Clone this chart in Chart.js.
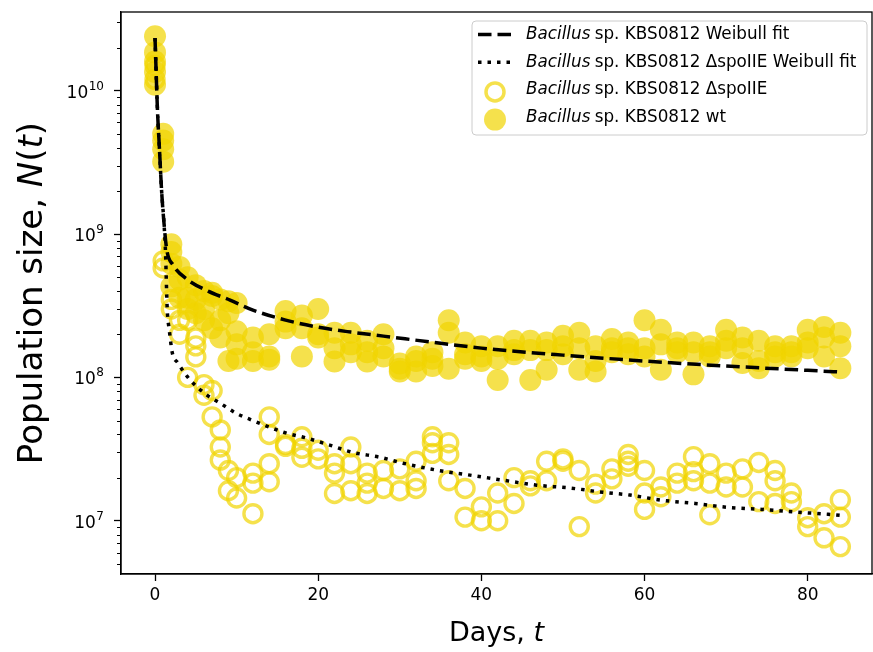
<!DOCTYPE html>
<html>
<head>
<meta charset="utf-8">
<script src="https://cdn.jsdelivr.net/npm/chart.js@4.4.1/dist/chart.umd.min.js"></script>
<style>
  html, body { margin: 0; padding: 0; background: #fff; overflow: hidden; }
  #wrap { position: relative; width: 873px; height: 652px; }
  canvas { display: block; }
</style>
</head>
<body>
<div id="wrap"><canvas id="survChart"></canvas></div>
<script>
// sampling days (shared by both strains)
const sampleDays = [0, 1, 2, 3, 4, 5, 6, 7, 8, 9, 10, 12, 14, 16, 18, 20, 22, 24, 26, 28, 30, 32, 34, 36, 38, 40,
  42, 44, 46, 48, 50, 52, 54, 56, 58, 60, 62, 64, 66, 68, 70, 72, 74, 76, 78, 80, 82, 84];

// wild type replicates, one list per sampling day
const wtReps = [
  [2.4e10, 1.85e10, 1.6e10, 1.35e10, 1.1e10], [5.0e9, 4.5e9, 3.9e9, 3.2e9], [8.5e8, 7.5e8, 6.2e8, 4.3e8],
  [5.9e8, 4.8e8, 3.6e8], [5.0e8, 3.6e8, 3.0e8], [4.4e8, 3.5e8, 2.8e8], [4.0e8, 3.0e8, 2.5e8],
  [3.9e8, 3.7e8, 2.2e8], [3.5e8, 2.5e8, 1.9e8], [3.4e8, 2.8e8, 1.3e8], [3.3e8, 2.1e8, 1.7e8, 1.35e8],
  [1.9e8, 1.5e8, 1.3e8], [2.0e8, 1.4e8, 1.33e8], [2.9e8, 2.45e8, 2.2e8], [2.7e8, 2.2e8, 1.4e8],
  [3.0e8, 2.0e8, 1.9e8], [2.05e8, 1.6e8, 1.29e8], [2.05e8, 1.7e8, 1.5e8], [1.8e8, 1.5e8, 1.29e8],
  [2.0e8, 1.6e8, 1.4e8], [1.25e8, 1.15e8, 1.1e8], [1.4e8, 1.3e8, 1.1e8], [1.5e8, 1.35e8, 1.2e8],
  [2.5e8, 2.05e8, 1.15e8], [1.75e8, 1.45e8, 1.35e8], [1.65e8, 1.4e8, 1.3e8], [1.65e8, 1.35e8, 9.6e7],
  [1.8e8, 1.55e8, 1.45e8], [1.8e8, 1.55e8, 9.6e7], [1.75e8, 1.55e8, 1.13e8], [1.95e8, 1.65e8, 1.45e8],
  [2.05e8, 1.6e8, 1.13e8], [1.65e8, 1.3e8, 1.1e8], [1.85e8, 1.6e8, 1.5e8], [1.75e8, 1.6e8, 1.45e8],
  [2.5e8, 1.6e8, 1.4e8], [2.15e8, 1.7e8, 1.13e8], [1.75e8, 1.6e8, 1.5e8], [1.75e8, 1.5e8, 1.05e8],
  [1.65e8, 1.5e8, 1.4e8], [2.15e8, 1.8e8, 1.6e8], [1.9e8, 1.6e8, 1.26e8], [1.8e8, 1.3e8, 1.16e8],
  [1.65e8, 1.5e8, 1.4e8], [1.65e8, 1.5e8, 1.4e8], [2.15e8, 1.75e8, 1.6e8], [2.25e8, 1.9e8, 1.4e8],
  [2.05e8, 1.65e8, 1.16e8]
];

// delta spoIIE replicates
const mutReps = [
  [1.5e10, 1.2e10], [6.5e8, 5.8e8], [3.5e8, 3.0e8], [2.5e8, 2.0e8], [2.5e8, 1.0e8], [1.88e8, 1.66e8, 1.39e8],
  [8.9e7, 7.5e7], [8.1e7, 5.3e7], [4.3e7, 3.27e7, 2.65e7], [2.24e7, 1.62e7], [2.0e7, 1.44e7],
  [2.15e7, 1.83e7, 1.12e7], [5.3e7, 4.0e7, 2.5e7, 1.87e7], [3.4e7, 3.3e7], [3.85e7, 3.2e7, 2.77e7],
  [3.1e7, 2.7e7], [2.5e7, 2.15e7, 1.55e7], [3.27e7, 2.5e7, 1.62e7], [2.15e7, 1.83e7, 1.55e7],
  [2.24e7, 1.68e7], [2.3e7, 1.62e7], [2.6e7, 1.9e7, 1.68e7], [3.85e7, 3.5e7, 2.95e7], [3.5e7, 2.9e7, 1.9e7],
  [1.68e7, 1.06e7], [1.25e7, 1.0e7], [1.56e7, 1.0e7], [2.0e7, 1.32e7], [1.9e7, 1.75e7], [2.6e7, 1.9e7],
  [2.7e7, 2.6e7], [2.24e7, 9.1e6], [1.8e7, 1.56e7], [2.3e7, 1.96e7], [2.9e7, 2.6e7, 2.4e7],
  [2.24e7, 1.56e7, 1.2e7], [1.72e7, 1.47e7], [2.15e7, 1.83e7], [2.8e7, 2.2e7, 1.9e7], [2.5e7, 1.83e7, 1.1e7],
  [2.15e7, 1.72e7], [2.3e7, 1.72e7], [2.55e7, 1.36e7], [2.24e7, 1.9e7, 1.32e7], [1.56e7, 1.36e7],
  [1.05e7, 9.1e6], [1.12e7, 7.6e6], [1.4e7, 1.06e7, 6.6e6]
];

// Weibull fit curves
const fitWtDays = [0, 0.3, 0.55, 0.8, 1.1, 1.45, 2.2, 4, 6.5, 9.2, 12, 16, 20, 24, 28, 35, 40, 50, 60, 70, 80, 84];
const fitWtN = [2.33e10, 7.3e9, 3.86e9, 2.03e9, 1.19e9, 7.7e8, 6.1e8, 4.8e8, 4.0e8, 3.46e8, 2.95e8, 2.51e8,
  2.24e8, 2.07e8, 1.94e8, 1.73e8, 1.6e8, 1.43e8, 1.3e8, 1.2e8, 1.12e8, 1.09e8];
const fitMutDays = [0, 0.3, 0.55, 0.8, 1.1, 1.3, 1.4, 1.5, 1.75, 2.1, 2.8, 4.3, 6.4, 8, 10, 12, 14, 16, 18.6,
  21.4, 24.2, 27.6, 30.4, 34.6, 38.6, 42.6, 46.8, 50.9, 54.9, 58.2, 62.1, 66.2, 70.2, 74.4, 78.4, 82.5, 84];
const fitMutN = [2.33e10, 7.3e9, 3.86e9, 2.03e9, 1.19e9, 7.1e8, 4.4e8, 2.95e8, 2.14e8, 1.5e8, 1.26e8, 9.6e7,
  7.5e7, 6.6e7, 5.6e7, 5.0e7, 4.5e7, 4.1e7, 3.77e7, 3.37e7, 3.0e7, 2.77e7, 2.52e7, 2.25e7, 2.08e7, 1.92e7,
  1.77e7, 1.69e7, 1.58e7, 1.51e7, 1.39e7, 1.32e7, 1.24e7, 1.2e7, 1.15e7, 1.11e7, 1.09e7];

const xTickValues = [0, 20, 40, 60, 80];
const yTickValues = [1e7, 1e8, 1e9, 1e10];
const yTickExponents = ['7', '8', '9', '10'];
const legendNames = [
  ' sp. KBS0812 Weibull fit',
  ' sp. KBS0812 \u0394spoIIE Weibull fit',
  ' sp. KBS0812 \u0394spoIIE',
  ' sp. KBS0812 wt'
];

const FONT = "'DejaVu Sans', sans-serif";
const gold = 'rgba(241, 212, 0, 0.7)';

const toPoints = (days, reps) => days.flatMap((d, i) => reps[i].map(v => ({ x: d, y: v })));
const toLine = (days, vals) => days.map((d, i) => ({ x: d, y: vals[i] }));

function drawRich(ctx, parts, x, y, size) {
  let total = 0;
  parts.forEach(p => {
    ctx.font = (p.it ? 'italic ' : '') + size + 'px ' + FONT;
    total += ctx.measureText(p.t).width;
  });
  let cx = x - total / 2;
  parts.forEach(p => {
    ctx.font = (p.it ? 'italic ' : '') + size + 'px ' + FONT;
    ctx.fillText(p.t, cx, y);
    cx += ctx.measureText(p.t).width;
  });
}

function noPad(s) {
  s.paddingLeft = 0; s.paddingRight = 0; s.paddingTop = 0; s.paddingBottom = 0;
}

const decorPlugin = {
  id: 'decor',
  afterDraw(chart) {
    const ctx = chart.ctx;
    const a = chart.chartArea;
    const ys = chart.scales.y;
    ctx.save();
    // frame
    ctx.strokeStyle = '#000';
    ctx.lineWidth = 1.3;
    ctx.strokeRect(a.left, a.top, a.right - a.left, a.bottom - a.top);
    // minor log ticks
    ctx.lineWidth = 1;
    for (let e = 6; e <= 10; e++) {
      for (let m = 2; m <= 9; m++) {
        const v = m * Math.pow(10, e);
        if (v < ys.min || v > ys.max) continue;
        const py = Math.round(ys.getPixelForValue(v)) + 0.5;
        ctx.beginPath();
        ctx.moveTo(a.left - 4, py);
        ctx.lineTo(a.left, py);
        ctx.stroke();
      }
    }
    ctx.fillStyle = '#000';
    ctx.textBaseline = 'alphabetic';
    ctx.textAlign = 'left';
    // y tick labels as 10 with a raised exponent
    yTickValues.forEach((v, i) => {
      const py = ys.getPixelForValue(v);
      const right = a.left - 17;
      ctx.font = '12px ' + FONT;
      const ew = ctx.measureText(yTickExponents[i]).width;
      ctx.fillText(yTickExponents[i], right - ew, py - 1);
      ctx.font = '17px ' + FONT;
      const bw = ctx.measureText('10').width;
      ctx.fillText('10', right - ew - bw - 0.5, py + 7);
    });
    // axis titles
    drawRich(ctx, [{ t: 'Days, ' }, { t: 't', it: true }], (a.left + a.right) / 2, 641, 27);
    ctx.save();
    ctx.translate(42, (a.top + a.bottom) / 2);
    ctx.rotate(-Math.PI / 2);
    drawRich(ctx, [{ t: 'Population size, ' }, { t: 'N', it: true }, { t: '(' }, { t: 't', it: true }, { t: ')' }], 0, 0, 34);
    ctx.restore();

    // legend
    const bx = a.right - 400, by = a.top + 9, bw = 395, bh = 114;
    ctx.fillStyle = 'rgba(255,255,255,0.8)';
    ctx.strokeStyle = '#cccccc';
    ctx.lineWidth = 1;
    ctx.beginPath();
    ctx.roundRect(bx, by, bw, bh, 4);
    ctx.fill();
    ctx.stroke();
    legendNames.forEach((name, i) => {
      const ry = by + 13.5 + i * 27.7;
      const sx = bx + 6, ex = bx + 41, cx = bx + 23;
      ctx.strokeStyle = '#000';
      ctx.lineWidth = 3.5;
      if (i === 0) {
        ctx.setLineDash([13.5, 6]);
        ctx.beginPath(); ctx.moveTo(sx, ry); ctx.lineTo(ex, ry); ctx.stroke();
      } else if (i === 1) {
        ctx.setLineDash([3.5, 6]);
        ctx.beginPath(); ctx.moveTo(sx, ry); ctx.lineTo(ex, ry); ctx.stroke();
      } else if (i === 2) {
        ctx.setLineDash([]);
        ctx.strokeStyle = gold;
        ctx.lineWidth = 3.5;
        ctx.beginPath(); ctx.arc(cx, ry + 2, 9, 0, Math.PI * 2); ctx.stroke();
      } else {
        ctx.setLineDash([]);
        ctx.fillStyle = gold;
        ctx.beginPath(); ctx.arc(cx, ry + 2, 11, 0, Math.PI * 2); ctx.fill();
      }
      ctx.setLineDash([]);
      ctx.fillStyle = '#000';
      ctx.textBaseline = 'middle';
      let tx = bx + 54;
      ctx.font = 'italic 16.8px ' + FONT;
      ctx.fillText('Bacillus', tx, ry);
      tx += ctx.measureText('Bacillus').width - 1;
      ctx.font = '16.8px ' + FONT;
      ctx.fillText(name, tx, ry);
    });
    ctx.restore();
  }
};

const ctx = document.getElementById('survChart').getContext('2d');
const survChart = new Chart(ctx, {
  type: 'scatter',
  data: {
    datasets: [
      {
        label: 'Weibull fit wt',
        type: 'line',
        data: toLine(fitWtDays, fitWtN),
        borderColor: '#000',
        borderWidth: 3.5,
        borderDash: [13.5, 6],
        pointRadius: 0,
        fill: false,
        cubicInterpolationMode: 'monotone',
        order: 0
      },
      {
        label: 'Weibull fit spoIIE',
        type: 'line',
        data: toLine(fitMutDays, fitMutN),
        borderColor: '#000',
        borderWidth: 3.5,
        borderDash: [3.5, 6],
        pointRadius: 0,
        fill: false,
        cubicInterpolationMode: 'monotone',
        order: 0
      },
      {
        label: 'spoIIE',
        data: toPoints(sampleDays, mutReps),
        pointRadius: 9,
        pointBorderWidth: 3.4,
        pointBorderColor: gold,
        pointBackgroundColor: 'rgba(0,0,0,0)',
        order: 2
      },
      {
        label: 'wt',
        data: toPoints(sampleDays, wtReps),
        pointRadius: 11,
        pointBorderWidth: 0,
        pointBackgroundColor: gold,
        pointBorderColor: 'rgba(0,0,0,0)',
        order: 1
      }
    ]
  },
  options: {
    responsive: true,
    maintainAspectRatio: false,
    animation: false,
    layout: { autoPadding: false, padding: { top: 12, right: 1, left: 0, bottom: 0 } },
    plugins: { legend: { display: false }, tooltip: { enabled: false } },
    scales: {
      x: {
        type: 'linear',
        min: -4.17,
        max: 87.88,
        afterBuildTicks: s => { s.ticks = xTickValues.map(v => ({ value: v })); },
        afterFit: s => { s.height = 78; noPad(s); },
        grid: { drawOnChartArea: false, drawTicks: true, tickLength: 7, tickColor: '#000', tickWidth: 1.3 },
        border: { color: '#000', width: 1.3 },
        ticks: { color: '#000', padding: 4, font: { family: FONT, size: 17 } }
      },
      y: {
        type: 'logarithmic',
        min: 4.25e6,
        max: 3.54e10,
        afterBuildTicks: s => { s.ticks = yTickValues.map(v => ({ value: v })); },
        afterFit: s => { s.width = 121; noPad(s); },
        grid: { drawOnChartArea: false, drawTicks: true, tickLength: 7, tickColor: '#000', tickWidth: 1.3 },
        border: { color: '#000', width: 1.3 },
        ticks: { display: false }
      }
    }
  },
  plugins: [decorPlugin]
});
</script>
</body>
</html>
